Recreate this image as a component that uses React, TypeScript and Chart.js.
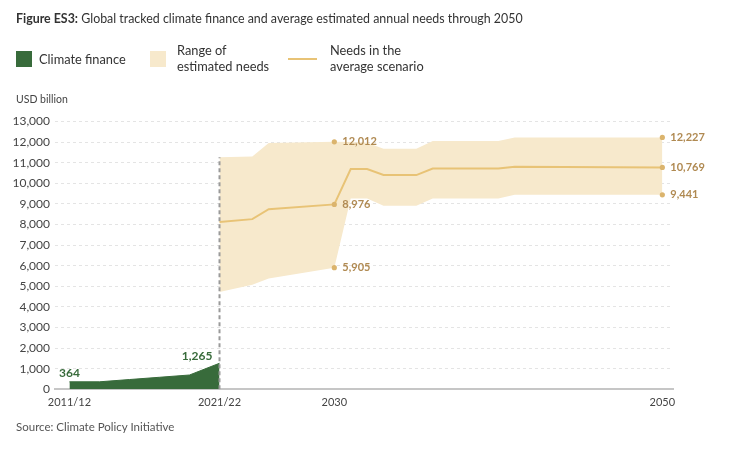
import React, { useEffect, useRef } from 'react';
import { Chart, registerables } from 'chart.js';

Chart.register(...registerables);

// ---------- DATA ----------
const FINANCE_PERIODS = ['2011/12', '2013/14', '2015/16', '2017/18', '2019/20', '2021/22'];
// position of each fiscal period on the shared (year) axis, as placed in the reference
const FINANCE_POS = [2013.85, 2015.68, 2017.51, 2019.34, 2021.17, 2023];
const FINANCE_VALUES = [364, 364, 474, 584, 694, 1265];

const NEEDS_YEARS = [2023, 2025, 2026, 2030, 2031, 2032, 2033, 2035, 2036, 2040, 2041, 2050];
const NEEDS_AVG = [8120, 8260, 8740, 8976, 10690, 10690, 10400, 10400, 10720, 10720, 10800, 10769];
const NEEDS_HIGH = [11260, 11300, 11960, 12012, 12000, 11970, 11680, 11680, 12050, 12050, 12227, 12227];
const NEEDS_LOW = [4722, 5080, 5376, 5905, 9265, 9265, 8915, 8915, 9265, 9265, 9441, 9441];

const LABELLED_YEARS = [2030, 2050];

const X_TICK_POS = [2013.85, 2023, 2030, 2050];
const X_TICK_LABELS = ['2011/12', '2021/22', '2030', '2050'];
const X_MIN = 2012.97;
const X_MAX = 2050.65;
const Y_MAX = 13000;
const Y_STEP = 1000;

// ---------- STYLE ----------
const GREEN = '#386b3b';
const BAND = '#f7e9cc';
const LINE = '#e8c376';
const DOT = '#dbb46d';
const TAN = '#b08a52';
const FONT = 'Lato, "Open Sans", sans-serif';

const fmt = (v: number) => v.toLocaleString('en-US');

const labelPlugin = {
  id: 'valueLabels',
  afterDatasetsDraw(chart: any) {
    const ctx = chart.ctx;
    const xs = chart.scales.x;
    const ys = chart.scales.y;
    ctx.save();
    // finance labels
    ctx.fillStyle = GREEN;
    ctx.font = `bold 12px ${FONT}`;
    ctx.textBaseline = 'middle';
    const n = FINANCE_VALUES.length;
    ctx.textAlign = 'center';
    ctx.fillText(
      fmt(FINANCE_VALUES[0]),
      xs.getPixelForValue(FINANCE_POS[0]),
      ys.getPixelForValue(FINANCE_VALUES[0]) - 9
    );
    ctx.textAlign = 'right';
    ctx.fillText(
      fmt(FINANCE_VALUES[n - 1]),
      xs.getPixelForValue(FINANCE_POS[n - 1]) - 7,
      ys.getPixelForValue(FINANCE_VALUES[n - 1]) - 7
    );
    // needs labels
    ctx.fillStyle = TAN;
    ctx.font = `bold 11px ${FONT}`;
    ctx.textAlign = 'left';
    LABELLED_YEARS.forEach((yr) => {
      const i = NEEDS_YEARS.indexOf(yr);
      [NEEDS_HIGH[i], NEEDS_AVG[i], NEEDS_LOW[i]].forEach((v) => {
        ctx.fillText(fmt(v), xs.getPixelForValue(yr) + 8, ys.getPixelForValue(v));
      });
    });
    ctx.restore();
  },
};

function ChartCanvas() {
  const ref = useRef<HTMLCanvasElement | null>(null);
  useEffect(() => {
    if (!ref.current) return;
    const dots: { x: number; y: number }[] = [];
    LABELLED_YEARS.forEach((yr) => {
      const i = NEEDS_YEARS.indexOf(yr);
      dots.push({ x: yr, y: NEEDS_HIGH[i] }, { x: yr, y: NEEDS_AVG[i] }, { x: yr, y: NEEDS_LOW[i] });
    });
    const chart = new Chart(ref.current, {
      type: 'line',
      data: {
        datasets: [
          {
            label: 'dots',
            data: dots,
            showLine: false,
            pointRadius: 2.6,
            pointBackgroundColor: DOT,
            pointBorderWidth: 0,
            order: 0,
          } as any,
          {
            label: 'Needs in the average scenario',
            data: NEEDS_YEARS.map((x, i) => ({ x, y: NEEDS_AVG[i] })),
            borderColor: LINE,
            borderWidth: 2,
            pointRadius: 0,
            tension: 0,
            fill: false,
            order: 1,
          },
          {
            label: 'divider',
            data: [
              { x: FINANCE_POS[FINANCE_POS.length - 1], y: 0 },
              { x: FINANCE_POS[FINANCE_POS.length - 1], y: NEEDS_HIGH[0] },
            ],
            borderColor: '#9a9a9a',
            borderWidth: 2,
            borderDash: [4, 3],
            pointRadius: 0,
            fill: false,
            order: 2,
          },
          {
            label: 'Climate finance',
            data: FINANCE_POS.map((x, i) => ({ x, y: FINANCE_VALUES[i] })),
            borderColor: GREEN,
            backgroundColor: GREEN,
            borderWidth: 1,
            pointRadius: 0,
            tension: 0,
            fill: 'origin',
            order: 3,
          },
          {
            label: 'high',
            data: NEEDS_YEARS.map((x, i) => ({ x, y: NEEDS_HIGH[i] })),
            borderWidth: 0,
            borderColor: 'rgba(0,0,0,0)',
            backgroundColor: BAND,
            pointRadius: 0,
            tension: 0,
            fill: '+1',
            order: 4,
          },
          {
            label: 'low',
            data: NEEDS_YEARS.map((x, i) => ({ x, y: NEEDS_LOW[i] })),
            borderWidth: 0,
            borderColor: 'rgba(0,0,0,0)',
            pointRadius: 0,
            tension: 0,
            fill: false,
            order: 5,
          },
        ],
      },
      options: {
        responsive: false,
        animation: false,
        devicePixelRatio: 1,
        layout: { padding: { top: 121.5, right: 73, left: 0, bottom: 0 } },
        plugins: {
          legend: { display: false },
          title: { display: false },
          tooltip: { enabled: false },
        },
        scales: {
          x: {
            type: 'linear',
            min: X_MIN,
            max: X_MAX,
            afterBuildTicks: (scale: any) => {
              scale.ticks = X_TICK_POS.map((value) => ({ value }));
            },
            afterFit: (scale: any) => {
              scale.height = 64.7;
            },
            ticks: {
              autoSkip: false,
              maxRotation: 0,
              padding: 7,
              color: '#444',
              font: { family: FONT, size: 11 },
              callback: (v: any) => {
                const i = X_TICK_POS.indexOf(Number(v));
                return i >= 0 ? X_TICK_LABELS[i] : '';
              },
            },
            grid: { display: false, drawTicks: false },
            border: { display: true, color: '#c6c6c6', width: 2 },
          },
          y: {
            min: 0,
            max: Y_MAX,
            afterFit: (scale: any) => {
              scale.width = 55;
            },
            ticks: {
              stepSize: Y_STEP,
              padding: 5,
              color: '#444',
              font: { family: FONT, size: 12 },
              callback: (v: any) => fmt(Number(v)),
            },
            grid: { color: '#e4e4e4', lineWidth: 1, drawTicks: false },
            border: { display: false, dash: [3, 3] },
          },
        },
      },
      plugins: [labelPlugin],
    } as any);
    return () => chart.destroy();
  }, []);
  return <canvas ref={ref} width={746} height={454} style={{ position: 'absolute', left: 0, top: 0 }} />;
}

export default function App() {
  const text: React.CSSProperties = { position: 'absolute', fontFamily: FONT, color: '#333', whiteSpace: 'nowrap' };
  return (
    <div style={{ position: 'absolute', left: 0, top: 0, width: 746, height: 454, background: '#fff', overflow: 'hidden' }}>
      <ChartCanvas />
      <div style={{ ...text, left: 16, top: 10, fontSize: 12.4, lineHeight: '18px' }}>
        <b>Figure ES3:</b> Global tracked climate finance and average estimated annual needs through 2050
      </div>
      <div style={{ position: 'absolute', left: 16, top: 51, width: 16, height: 16, background: GREEN }} />
      <div style={{ ...text, left: 39, top: 50, fontSize: 12.8, lineHeight: '18px' }}>Climate finance</div>
      <div style={{ position: 'absolute', left: 150, top: 51, width: 16, height: 16, background: BAND }} />
      <div style={{ ...text, left: 177, top: 42, fontSize: 12.8, lineHeight: '16px' }}>
        Range of
        <br />
        estimated needs
      </div>
      <div style={{ position: 'absolute', left: 288, top: 58, width: 29, height: 2, background: LINE }} />
      <div style={{ ...text, left: 330, top: 42, fontSize: 12.8, lineHeight: '16px' }}>
        Needs in the
        <br />
        average scenario
      </div>
      <div style={{ ...text, left: 16, top: 92, fontSize: 10.5, lineHeight: '14px', color: '#444' }}>USD billion</div>
      <div style={{ ...text, left: 16, top: 419, fontSize: 11.5, lineHeight: '16px', color: '#555' }}>
        Source: Climate Policy Initiative
      </div>
    </div>
  );
}
